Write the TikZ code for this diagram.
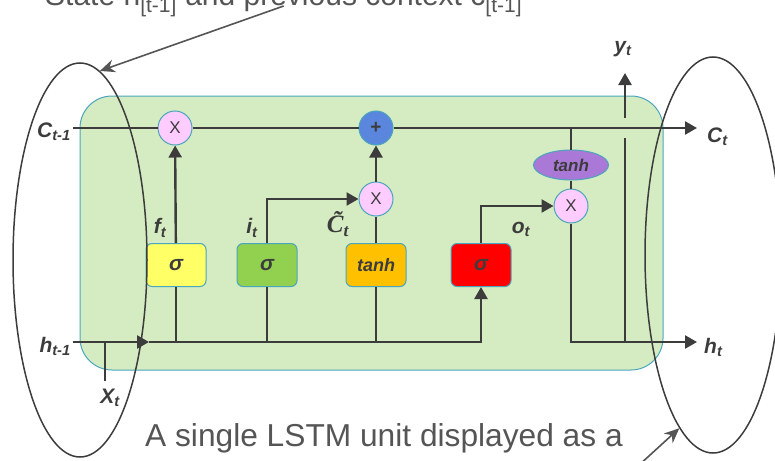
\documentclass[tikz,border=0pt]{standalone}
\usepackage{fontspec}
\setmainfont{Liberation Sans}
\newfontfamily\tildefont{Liberation Serif}
\usetikzlibrary{arrows.meta,positioning,shapes.geometric}
\definecolor{cellgreen}{HTML}{D5EBC1}
\definecolor{cellrim}{HTML}{4BA6BD}
\definecolor{wireink}{HTML}{3C3C3C}
\definecolor{noteink}{HTML}{555555}
\definecolor{mulpink}{HTML}{FFCCFF}
\definecolor{addblue}{HTML}{5A86DD}
\definecolor{tanhpurple}{HTML}{AA78D6}
\definecolor{gateyellow}{HTML}{FFFF66}
\definecolor{gategreen}{HTML}{92D050}
\definecolor{gateorange}{HTML}{FFC000}
\definecolor{gatered}{HTML}{FF0000}

\begin{document}
\begin{tikzpicture}[x=1pt,y=-1pt,
 wire/.style={draw=wireink,line width=2.4pt},
 ar/.style={wire,-{Triangle[length=12pt,width=13pt]}},
 pin/.style={draw=noteink,line width=1.6pt,-{Stealth[length=15pt,width=13pt]}},
 note/.style={font=\fontsize{30}{36}\selectfont,text=noteink,inner sep=0pt},
 lab/.style={font=\fontsize{21}{24}\selectfont\bfseries\itshape,text=wireink,inner sep=1pt},
 op/.style={circle,draw=cellrim,line width=1pt,minimum size=34pt,inner sep=0pt,font=\fontsize{17}{20}\selectfont,text=wireink},
 gate/.style={rectangle,rounded corners=6pt,draw=cellrim,line width=1pt,minimum width=60pt,minimum height=43pt,font=\fontsize{21}{24}\selectfont\bfseries\itshape,text=wireink},
 ctx/.style={ellipse,draw=wireink,line width=1.5pt,inner sep=0pt}]
\useasboundingbox (0,0) rectangle (775,460);
\clip (0,0) rectangle (775,460);
\node[fill=cellgreen,draw=cellrim,line width=1pt,rounded corners=32pt,minimum width=583pt,minimum height=274pt] (cell) at (371.5,233) {};
\node[op,fill=mulpink] (mulf) at (175,128) {X};
\node[op,fill=addblue,font=\fontsize{19}{20}\selectfont\bfseries] (addc) at (376,128) {+};
\node[op,fill=mulpink] (muli) at (376,199) {X};
\node[op,fill=mulpink] (mulo) at (571,206) {X};
\node[ellipse,fill=tanhpurple,draw=cellrim,line width=1pt,minimum width=75pt,minimum height=30pt,inner sep=0pt,font=\fontsize{17}{20}\selectfont\bfseries\itshape,text=wireink] (tanhc) at (571,165) {tanh};
\node[gate,fill=gateyellow] (sigf) at (176,265) {σ};
\node[gate,fill=gategreen] (sigi) at (267,265) {σ};
\node[gate,fill=gateorange,font=\fontsize{18}{20}\selectfont\bfseries\itshape] (tanhg) at (376,265) {tanh};
\node[gate,fill=gatered] (sigo) at (481,265) {σ};
\coordinate (cin) at (73,128);
\coordinate (cbr) at (571,128);
\coordinate (cout) at (697,128);
\coordinate (hin) at (73,342);
\coordinate (hmid) at (149,342);
\coordinate (xjoin) at (105,342);
\coordinate (xfoot) at (105,381);
\coordinate (hout) at (697,342);
\coordinate (yfoot) at (625,342);
\coordinate (ylow) at (625,138);
\coordinate (yhigh) at (625,118);
\coordinate (ytip) at (625,73);
\draw[wire] (cin) -- (mulf) -- (addc);
\draw[ar] (addc) -- (cout);
\draw[ar] (hin) -- (hmid);
\draw[ar] (hmid) -| (sigo);
\draw[wire] (xjoin) -- (xfoot);
\draw[wire] (sigf |- hmid) -- (sigf);
\draw[ar] (sigf) -- (mulf);
\draw[wire] (sigi |- hmid) -- (sigi);
\draw[ar] (sigi) |- (muli);
\draw[wire] (tanhg |- hmid) -- (tanhg);
\draw[wire] (tanhg) -- (muli);
\draw[ar] (muli) -- (addc);
\draw[ar] (sigo) |- (mulo);
\draw[wire] (cbr) -- (tanhc);
\draw[wire] (tanhc) -- (mulo);
\draw[ar] (mulo) |- (hout);
\draw[wire] (yfoot) -- (ylow);
\draw[ar] (yhigh) -- (ytip);
\node[lab,anchor=east] (cprev) at (72,132) {C\textsubscript{t-1}};
\node[lab,anchor=west] (cnext) at (706,137) {C\textsubscript{t}};
\node[lab,anchor=east] (hprev) at (72,346) {h\textsubscript{t-1}};
\node[lab,anchor=west] (hnext) at (703,347) {h\textsubscript{t}};
\node[lab] (xnow) at (110,398) {X\textsubscript{t}};
\node[lab] (ynow) at (623,49) {y\textsubscript{t}};
\node[lab] (flab) at (160,228) {f\textsubscript{t}};
\node[lab] (ilab) at (252,228) {i\textsubscript{t}};
\node[lab,font=\fontsize{25}{26}\tildefont\bfseries\itshape] (clab) at (338,224) {\~{C}\textsubscript{t}};
\node[lab] (olab) at (521,229) {o\textsubscript{t}};
\node[note,anchor=base west] (toptext) at (45,6) {State h\textsubscript{[t-1]} and previous context c\textsubscript{[t-1]}};
\node[note,anchor=base west,font=\fontsize{31.7}{36}\selectfont] (bottext) at (145,446) {A single LSTM unit displayed as a};
\node[ctx,minimum width=134pt,minimum height=394pt] (lctx) at (80,260) {};
\node[ctx,minimum width=136pt,minimum height=396pt] (rctx) at (713,255) {};
\coordinate (botfoot) at (638,466);
\draw[pin] (toptext.base) -- (lctx.84);
\draw[pin] (botfoot) -- (rctx.259);
\end{tikzpicture}
\end{document}
